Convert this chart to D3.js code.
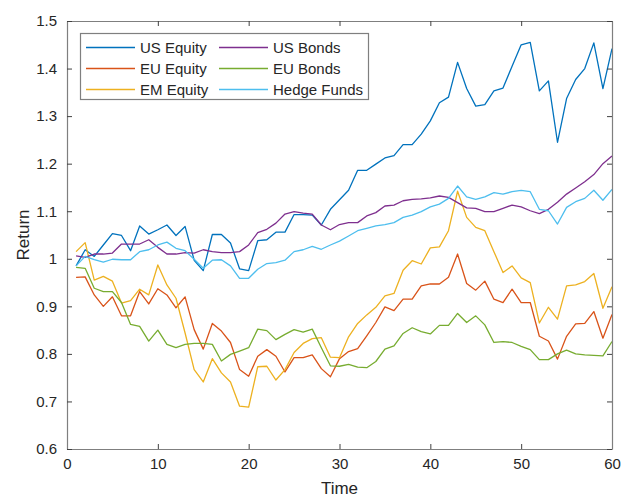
<!DOCTYPE html>
<html>
<head>
<meta charset="utf-8">
<script src="https://cdn.jsdelivr.net/npm/d3@7"></script>
<style>
  html, body { margin: 0; padding: 0; background: #fff; }
  svg { display: block; font-family: "Liberation Sans", Arial, Helvetica, sans-serif; }
</style>
</head>
<body>
<svg id="chart" width="623" height="498"></svg>
<script>
// Monthly cumulative returns for six asset classes, t = 1..60
const seriesNames = ["US Equity", "EU Equity", "EM Equity", "US Bonds", "EU Bonds", "Hedge Funds"];
const seriesColors = ["#0072BD", "#D95319", "#EDB120", "#7E2F8E", "#77AC30", "#4DBEEE"];

const usEquity = [0.985, 1.019, 1.005, 1.029, 1.053, 1.049, 1.017, 1.069, 1.052, 1.061,
  1.071, 1.049, 1.068, 0.997, 0.975, 1.051, 1.051, 1.033, 0.979, 0.975,
  1.038, 1.040, 1.056, 1.056, 1.093, 1.093, 1.092, 1.071, 1.104, 1.124,
  1.144, 1.186, 1.186, 1.199, 1.212, 1.217, 1.240, 1.240, 1.262, 1.290,
  1.328, 1.340, 1.413, 1.358, 1.321, 1.324, 1.353, 1.359, 1.405, 1.450,
  1.455, 1.353, 1.374, 1.245, 1.337, 1.377, 1.400, 1.454, 1.358, 1.442];

const euEquity = [0.961, 0.962, 0.924, 0.900, 0.920, 0.880, 0.880, 0.931, 0.905, 0.937,
  0.924, 0.897, 0.920, 0.851, 0.810, 0.864, 0.848, 0.824, 0.767, 0.753,
  0.795, 0.809, 0.795, 0.762, 0.792, 0.792, 0.798, 0.769, 0.752, 0.790,
  0.805, 0.811, 0.838, 0.866, 0.899, 0.891, 0.915, 0.915, 0.943, 0.947,
  0.947, 0.961, 1.010, 0.948, 0.934, 0.953, 0.915, 0.908, 0.936, 0.908,
  0.908, 0.837, 0.827, 0.789, 0.837, 0.863, 0.864, 0.889, 0.833, 0.883];

const emEquity = [1.015, 1.034, 0.955, 0.963, 0.953, 0.907, 0.912, 0.936, 0.924, 0.987,
  0.945, 0.917, 0.844, 0.767, 0.741, 0.790, 0.760, 0.741, 0.690, 0.688,
  0.773, 0.774, 0.745, 0.767, 0.803, 0.822, 0.832, 0.834, 0.793, 0.792,
  0.836, 0.864, 0.882, 0.898, 0.922, 0.927, 0.976, 0.996, 0.989, 1.023,
  1.025, 1.059, 1.142, 1.087, 1.066, 1.059, 1.015, 0.971, 0.985, 0.960,
  0.950, 0.865, 0.898, 0.873, 0.943, 0.945, 0.952, 0.969, 0.896, 0.941];

const usBonds = [1.006, 1.003, 1.010, 1.010, 1.012, 1.031, 1.031, 1.031, 1.040, 1.024,
  1.010, 1.010, 1.013, 1.012, 1.019, 1.015, 1.013, 1.013, 1.015, 1.029,
  1.055, 1.062, 1.075, 1.094, 1.099, 1.096, 1.094, 1.071, 1.061, 1.072,
  1.076, 1.076, 1.090, 1.097, 1.111, 1.113, 1.122, 1.125, 1.126, 1.128,
  1.132, 1.129, 1.118, 1.107, 1.106, 1.099, 1.099, 1.106, 1.113, 1.109,
  1.101, 1.095, 1.104, 1.119, 1.136, 1.149, 1.162, 1.177, 1.200, 1.216];

const euBonds = [0.982, 0.980, 0.938, 0.931, 0.931, 0.908, 0.862, 0.858, 0.827, 0.850,
  0.820, 0.813, 0.820, 0.822, 0.822, 0.820, 0.785, 0.799, 0.806, 0.813,
  0.852, 0.849, 0.830, 0.841, 0.851, 0.846, 0.852, 0.813, 0.775, 0.774,
  0.778, 0.772, 0.771, 0.784, 0.810, 0.817, 0.843, 0.855, 0.847, 0.842,
  0.860, 0.860, 0.885, 0.866, 0.880, 0.861, 0.824, 0.826, 0.824, 0.816,
  0.809, 0.788, 0.788, 0.800, 0.808, 0.800, 0.798, 0.797, 0.796, 0.826];

const hedgeFunds = [0.985, 1.005, 0.998, 0.993, 0.999, 0.998, 0.998, 1.015, 1.019, 1.029,
  1.035, 1.022, 1.017, 0.999, 0.980, 0.997, 0.998, 0.985, 0.959, 0.959,
  0.978, 0.990, 0.992, 0.997, 1.015, 1.019, 1.026, 1.020, 1.029, 1.037,
  1.048, 1.059, 1.064, 1.069, 1.072, 1.076, 1.087, 1.092, 1.099, 1.109,
  1.115, 1.127, 1.153, 1.130, 1.125, 1.130, 1.139, 1.136, 1.141, 1.144,
  1.141, 1.104, 1.101, 1.073, 1.108, 1.120, 1.127, 1.144, 1.123, 1.146];

const seriesValues = [usEquity, euEquity, emEquity, usBonds, euBonds, hedgeFunds];

const xTicks = [0, 10, 20, 30, 40, 50, 60];
const yTicks = [0.6, 0.7, 0.8, 0.9, 1.0, 1.1, 1.2, 1.3, 1.4, 1.5];
const yTickLabels = ["0.6", "0.7", "0.8", "0.9", "1", "1.1", "1.2", "1.3", "1.4", "1.5"];

const svg = d3.select("#chart");
const margin = { left: 67, right: 11, top: 21, bottom: 49 };
const W = 623, H = 498;
const x = d3.scaleLinear().domain([0, 60]).range([margin.left, W - margin.right]);
const y = d3.scaleLinear().domain([0.6, 1.5]).range([H - margin.bottom, margin.top]);

const axisColor = "#7f7f7f";
const textColor = "#262626";

// Series lines
const line = d3.line()
  .x((d, i) => x(i + 1))
  .y(d => y(d));

svg.append("g").selectAll("path")
  .data(seriesValues)
  .join("path")
  .attr("d", d => line(d))
  .attr("fill", "none")
  .attr("stroke", (d, i) => seriesColors[i])
  .attr("stroke-width", 1.3)
  .attr("stroke-linejoin", "round");

// Axes with inward ticks on all four sides
function styleAxis(g) {
  g.select(".domain").attr("stroke", axisColor).attr("stroke-width", 1.2);
  g.selectAll(".tick line").attr("stroke", "#404040");
  g.selectAll(".tick text").attr("fill", textColor).style("font-size", "15px");
}

svg.append("g")
  .attr("transform", `translate(0,${y(0.6)})`)
  .call(d3.axisBottom(x).tickValues(xTicks).tickSizeInner(-5).tickSizeOuter(0).tickPadding(9))
  .call(styleAxis);

svg.append("g")
  .attr("transform", `translate(0,${y(1.5)})`)
  .call(d3.axisTop(x).tickValues(xTicks).tickSizeInner(-5).tickSizeOuter(0).tickFormat(""))
  .call(styleAxis);

svg.append("g")
  .attr("transform", `translate(${x(0)},0)`)
  .call(d3.axisLeft(y).tickValues(yTicks).tickSizeInner(-5).tickSizeOuter(0).tickPadding(10)
    .tickFormat((d, i) => yTickLabels[i]))
  .call(styleAxis);

svg.append("g")
  .attr("transform", `translate(${x(60)},0)`)
  .call(d3.axisRight(y).tickValues(yTicks).tickSizeInner(-5).tickSizeOuter(0).tickFormat(""))
  .call(styleAxis);

// Axis titles
svg.append("text")
  .attr("x", (x(0) + x(60)) / 2)
  .attr("y", 494)
  .attr("text-anchor", "middle")
  .attr("fill", textColor)
  .style("font-size", "17px")
  .text("Time");

svg.append("text")
  .attr("transform", `translate(29,${(y(0.6) + y(1.5)) / 2}) rotate(-90)`)
  .attr("text-anchor", "middle")
  .attr("fill", textColor)
  .style("font-size", "17px")
  .text("Return");

// Legend: two columns of three entries
const legend = svg.append("g");
legend.append("rect")
  .attr("x", 80.5).attr("y", 33.5)
  .attr("width", 288).attr("height", 66)
  .attr("fill", "#fff")
  .attr("stroke", axisColor)
  .attr("stroke-width", 1.2);

const colX = [86, 219];
const rowY = [47.5, 68.5, 89.5];
seriesNames.forEach((name, i) => {
  const col = Math.floor(i / 3), row = i % 3;
  const g = legend.append("g").attr("transform", `translate(${colX[col]},${rowY[row]})`);
  g.append("line").attr("x1", 0).attr("x2", 49).attr("y1", 0).attr("y2", 0)
    .attr("stroke", seriesColors[i]).attr("stroke-width", 1.3);
  g.append("text").attr("x", 54).attr("y", 5.5)
    .attr("fill", textColor).style("font-size", "15px").text(name);
});
</script>
</body>
</html>
